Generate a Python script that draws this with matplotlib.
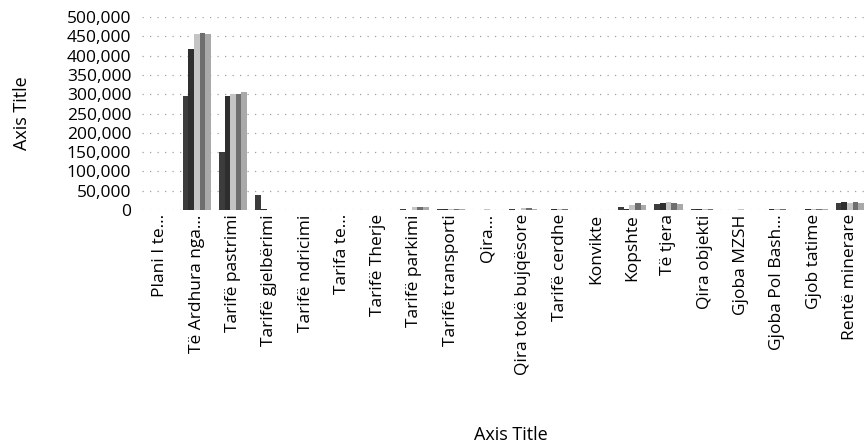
import numpy as np
import matplotlib.pyplot as plt

plt.rcParams['font.family'] = ['Open Sans', 'DejaVu Sans']

# categories (x axis)
categories = ["Plani I te...", "Të Ardhura nga...", "Tarifë pastrimi", "Tarifë gjelbërimi",
              "Tarifë ndricimi", "Tarifa te...", "Tarifë Therje", "Tarifë parkimi",
              "Tarifë transporti", "Qira...", "Qira tokë bujqësore", "Tarifë cerdhe",
              "Konvikte", "Kopshte", "Të tjera", "Qira objekti", "Gjoba MZSH",
              "Gjoba Pol Bash...", "Gjob tatime", "Rentë minerare"]

# five series, values
s1 = [0, 295000, 150000, 38000, 0, 0, 0, 3000, 3000, 0, 3000, 1000, 0, 8000, 15000, 2000, 0, 1000, 1000, 18000]
s2 = [0, 417000, 295000, 4000, 0, 0, 0, 1000, 3000, 0, 1000, 2000, 0, 4000, 18000, 2000, 1000, 2000, 2000, 20000]
s3 = [0, 456000, 300000, 1000, 0, 0, 0, 8000, 3000, 2000, 5000, 3000, 0, 14000, 20000, 3000, 2000, 3000, 3000, 18000]
s4 = [0, 458000, 300000, 0, 0, 0, 0, 9000, 3000, 0, 6000, 2000, 0, 17000, 18000, 2000, 0, 2000, 3000, 20000]
s5 = [0, 455000, 305000, 0, 0, 0, 0, 9000, 2000, 0, 4000, 1000, 0, 14000, 15000, 1000, 0, 1000, 2000, 19000]
series = [s1, s2, s3, s4, s5]
colors = ['#3c3c3c', '#2e2e2e', '#c4c4c4', '#6e6e6e', '#a9a9a9']

fig = plt.figure(figsize=(8.68, 4.46), dpi=100)
ax = fig.add_axes([0.164, 0.529, 0.836, 0.433])

x = np.arange(len(categories))
w = 0.155
for i, (vals, c) in enumerate(zip(series, colors)):
    ax.bar(x + (i - 2) * w, vals, width=w, color=c, edgecolor='none', zorder=3)

ax.set_xlim(-0.5, len(categories) - 0.5)
ax.set_ylim(0, 500000)
ax.set_yticks(np.arange(0, 500001, 50000))
ax.set_yticklabels([f"{v:,}" for v in range(0, 500001, 50000)], fontsize=12.5)
ax.yaxis.grid(True, color='#a0a0a0', linestyle=(0, (1, 5)), linewidth=0.9, zorder=0)
ax.set_xticks(x)
ax.set_xticklabels(categories, rotation=90, fontsize=12.5)
ax.tick_params(axis='x', length=0, pad=3)
ax.tick_params(axis='y', length=0, pad=8)
for sp in ax.spines.values():
    sp.set_visible(False)

ax.set_ylabel("Axis Title", fontsize=13, labelpad=26)
fig.text(0.588, 0.005, "Axis Title", fontsize=13, ha='center', va='bottom')

fig.savefig("out.png", dpi=100)
